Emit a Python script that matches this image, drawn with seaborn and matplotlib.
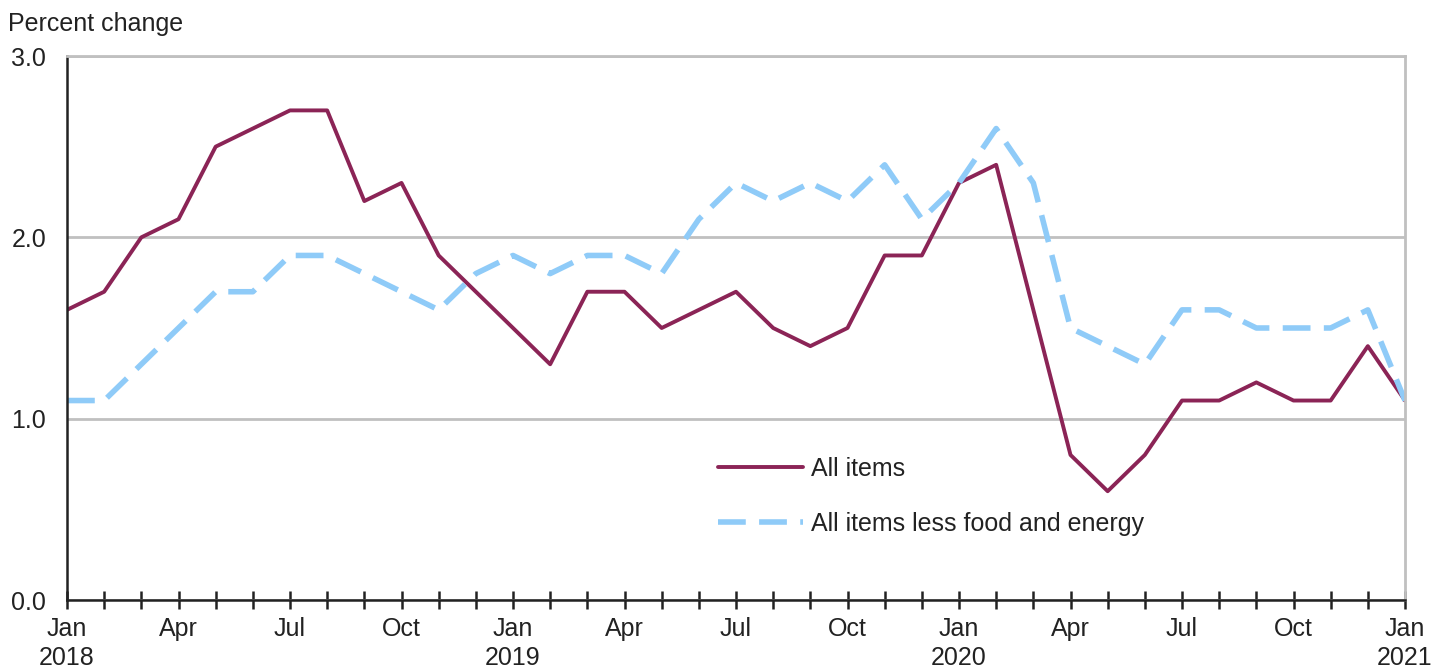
import matplotlib
matplotlib.use("Agg")
import matplotlib.pyplot as plt
import seaborn as sns
import pandas as pd

# months Jan 2018 .. Jan 2021
months = pd.date_range("2018-01-01", "2021-01-01", freq="MS")

all_items = [1.6, 1.7, 2.0, 2.1, 2.5, 2.6, 2.7, 2.7, 2.2, 2.3, 1.9, 1.7,
             1.5, 1.3, 1.7, 1.7, 1.5, 1.6, 1.7, 1.5, 1.4, 1.5, 1.9, 1.9,
             2.3, 2.4, 1.6, 0.8, 0.6, 0.8, 1.1, 1.1, 1.2, 1.1, 1.1, 1.4,
             1.1]
core = [1.1, 1.1, 1.3, 1.5, 1.7, 1.7, 1.9, 1.9, 1.8, 1.7, 1.6, 1.8,
        1.9, 1.8, 1.9, 1.9, 1.8, 2.1, 2.3, 2.2, 2.3, 2.2, 2.4, 2.1,
        2.3, 2.6, 2.3, 1.5, 1.4, 1.3, 1.6, 1.6, 1.5, 1.5, 1.5, 1.6,
        1.1]
series_names = ["All items", "All items less food and energy"]
colors = ["#8B2456", "#8FCBF8"]

n = len(months)
df = pd.DataFrame({
    "idx": list(range(n)) * 2,
    "value": all_items + core,
    "series": [series_names[0]] * n + [series_names[1]] * n,
})

sns.set_style("white")
plt.rcParams["font.family"] = ["Liberation Sans", "DejaVu Sans"]
text_color = "#222222"
fs = 18

fig = plt.figure(figsize=(14.32, 6.71), dpi=100)
ax = fig.add_axes([67 / 1432, 71 / 671, 1338 / 1432, 544 / 671])

for name, c, lw in zip(series_names, colors, [2.8, 4.0]):
    sub = df[df["series"] == name]
    sns.lineplot(data=sub, x="idx", y="value", color=c, linewidth=lw,
                 ax=ax, label=name)
lines = ax.get_lines()
lines[1].set_dashes((5, 2.4))

ax.set_xlim(0, n - 1)
ax.set_ylim(0, 3.0)
ax.set_yticks([0, 1, 2, 3])
ax.set_yticklabels(["0.0", "1.0", "2.0", "3.0"])
ax.yaxis.grid(True, color="#c0c0c0", linewidth=2)
ax.set_axisbelow(True)

ax.set_xticks(range(n))
labels = []
for d in months:
    if d.month == 1:
        labels.append(f"Jan\n{d.year}")
    elif d.month in (4, 7, 10):
        labels.append(d.strftime("%b"))
    else:
        labels.append("")
ax.set_xticklabels(labels, linespacing=1.25)
ax.tick_params(axis="x", bottom=True, direction="inout", length=13, width=1.8,
               color="#222222", labelsize=fs, labelcolor=text_color, pad=6)
ax.tick_params(axis="y", left=False, length=0, labelsize=fs,
               labelcolor=text_color, pad=15)
ax.set_xlabel("")
ax.set_ylabel("")

for side in ["top", "right"]:
    ax.spines[side].set_color("#c0c0c0")
    ax.spines[side].set_linewidth(2)
for side in ["left", "bottom"]:
    ax.spines[side].set_color("#222222")
    ax.spines[side].set_linewidth(1.8)

fig.text(8 / 1432, 1 - 24 / 671, "Percent change", fontsize=fs,
         color=text_color, va="center", ha="left")

ax.legend(loc="upper left", bbox_to_anchor=(0.47, 0.305), frameon=False,
          fontsize=fs, handlelength=3.4, handletextpad=0.3,
          labelspacing=1.25, labelcolor=text_color)

fig.savefig("out.png", dpi=100)
